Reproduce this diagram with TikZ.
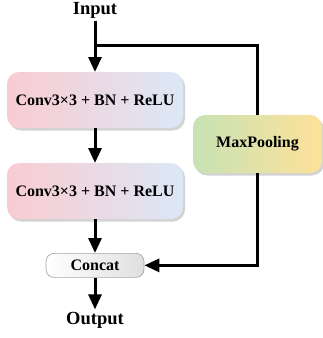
\documentclass[tikz,border=0pt]{standalone}
\usepackage{fontspec}
\setmainfont{Liberation Serif}
\usetikzlibrary{arrows.meta,positioning,shadows}

\definecolor{convpink}{HTML}{F9CCD1}
\definecolor{convblue}{HTML}{DCE7F6}
\definecolor{poolgreen}{HTML}{C8E2B4}
\definecolor{poolyellow}{HTML}{FDE29A}

\begin{document}
\begin{tikzpicture}[x=1pt,y=-1pt,>={Triangle[width=13pt,length=15pt]},line width=3pt,
    io/.style={inner sep=1pt,font=\fontsize{18.5}{20}\selectfont\bfseries},
    block/.style={rounded corners=12pt,line width=0pt,font=\fontsize{16}{18}\selectfont\bfseries,
        drop shadow={shadow xshift=2pt,shadow yshift=-2.5pt,opacity=0.35}},
    conv/.style={block,minimum width=176pt,minimum height=56pt,left color=convpink,right color=convblue},
    pool/.style={block,minimum width=129pt,minimum height=58pt,left color=poolgreen,right color=poolyellow}]
    \useasboundingbox (0,0) rectangle (323,338);
    \node[io] (input) at (95,10) {Input};
    \node[conv] (conv1) at (95,100) {Conv3\texttimes3 + BN + ReLU};
    \node[conv] (conv2) [below=35pt of conv1] {Conv3\texttimes3 + BN + ReLU};
    \node[pool] (maxpool) at (257.5,144) {MaxPooling};
    \node[rounded corners=8pt,draw=gray!70,line width=0.7pt,left color=white,right color=gray!25,
        minimum width=98pt,minimum height=24pt,inner sep=0pt,font=\fontsize{16}{18}\selectfont\bfseries]
        (concat) [below=34pt of conv2] {Concat};
    \node[io] (output) at (95,320) {Output};
    \coordinate (split) at (95,45);

    \draw[->] (input) -- (conv1);
    \draw (split) -| (maxpool);
    \draw[->] (conv1) -- (conv2);
    \draw[->] (conv2) -- (concat);
    \draw[->] (maxpool) |- (concat);
    \draw[->] (concat) -- (output);
\end{tikzpicture}
\end{document}
